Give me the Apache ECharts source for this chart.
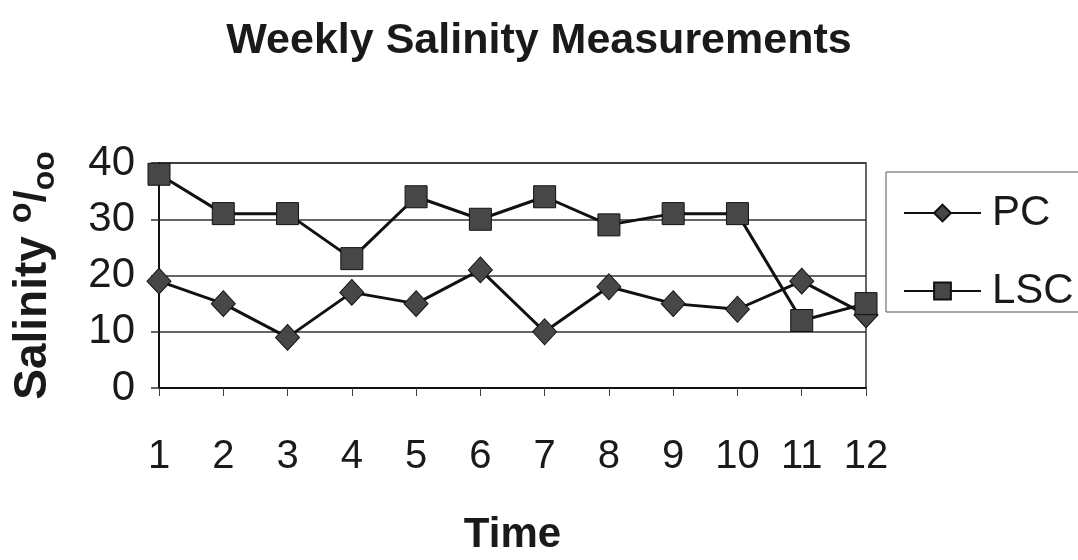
<!DOCTYPE html>
<html>
<head>
<meta charset="utf-8">
<script src="https://cdn.jsdelivr.net/npm/echarts@6/dist/echarts.min.js"></script>
<style>
  html, body { margin: 0; padding: 0; background: #fff; }
  #chart { width: 1078px; height: 560px; }
</style>
</head>
<body>
<div id="chart"></div>
<script>
// Weekly salinity readings at two sites
const weeks = ['1', '2', '3', '4', '5', '6', '7', '8', '9', '10', '11', '12'];
const pcValues = [19, 15, 9, 17, 15, 21, 10, 18, 15, 14, 19, 13];
const lscValues = [38, 31, 31, 23, 34, 30, 34, 29, 31, 31, 12, 15];
const yTicks = { min: 0, max: 40, interval: 10 };

const FONT = '"Liberation Sans", Arial, sans-serif';
const ink = '#111';
const textInk = '#1a1a1a';
const fill = '#474747';

const chart = echarts.init(document.getElementById('chart'), null, { renderer: 'canvas' });

chart.setOption({
  animation: false,
  backgroundColor: '#fff',
  title: {
    text: 'Weekly Salinity Measurements',
    left: 'center',
    top: 15,
    textStyle: { fontFamily: FONT, fontSize: 43, fontWeight: 'bold', color: textInk }
  },
  legend: {
    orient: 'vertical',
    left: 886,
    top: 172,
    padding: [20, 40, 0, 17],
    itemGap: 36,
    itemWidth: 77,
    itemHeight: 21,
    borderColor: '#555',
    borderWidth: 1,
    textStyle: { fontFamily: FONT, fontSize: 42, lineHeight: 40, color: textInk, padding: [0, 0, 0, 6] },
    data: ['PC', 'LSC']
  },
  grid: {
    left: 159, right: 212, top: 163, bottom: 172,
    outerBoundsMode: 'none',
    containLabel: false,
    show: true, borderColor: '#333', borderWidth: 1.5
  },
  xAxis: {
    type: 'category',
    data: weeks,
    boundaryGap: false,
    name: 'Time',
    nameLocation: 'middle',
    nameGap: 126,
    nameTextStyle: { fontFamily: FONT, fontSize: 42, fontWeight: 'bold', color: textInk },
    axisLine: { lineStyle: { color: ink, width: 2 } },
    axisTick: { show: true, alignWithLabel: true, length: 8, lineStyle: { color: '#444', width: 1 } },
    axisLabel: { fontFamily: FONT, fontSize: 40, color: textInk, margin: 49 },
    splitLine: { show: false }
  },
  yAxis: {
    type: 'value',
    min: yTicks.min,
    max: yTicks.max,
    interval: yTicks.interval,
    name: '{a|Salinity }{sup|o}{sl|/}{sub|oo}',
    nameLocation: 'middle',
    nameGap: 98,
    nameTextStyle: {
      fontFamily: FONT, fontSize: 46, fontWeight: 'bold', color: textInk,
      rich: {
        a: { fontFamily: FONT, fontSize: 46, fontWeight: 'bold', color: textInk },
        sup: { fontFamily: FONT, fontSize: 34, color: textInk, verticalAlign: 'top', padding: [0, 0, 22, 0] },
        sl: { fontFamily: FONT, fontSize: 44, color: textInk },
        sub: { fontFamily: FONT, fontSize: 32, color: textInk, verticalAlign: 'bottom', padding: [16, 0, 0, 0] }
      }
    },
    axisLine: { show: true, lineStyle: { color: ink, width: 2 } },
    axisTick: { show: true, length: 8, lineStyle: { color: '#333', width: 1.5 } },
    axisLabel: { fontFamily: FONT, fontSize: 42, color: textInk, margin: 24 },
    splitLine: { show: true, lineStyle: { color: '#333', width: 1.5 } }
  },
  series: [
    {
      name: 'PC',
      type: 'line',
      data: pcValues,
      symbol: 'diamond',
      symbolSize: [24, 26],
      color: fill,
      lineStyle: { color: ink, width: 3 },
      itemStyle: { color: fill, borderColor: ink, borderWidth: 1 },
      z: 3
    },
    {
      name: 'LSC',
      type: 'line',
      data: lscValues,
      symbol: 'rect',
      symbolSize: 22,
      color: fill,
      lineStyle: { color: ink, width: 3 },
      itemStyle: { color: fill, borderColor: ink, borderWidth: 1 },
      z: 4
    }
  ]
});
</script>
</body>
</html>
